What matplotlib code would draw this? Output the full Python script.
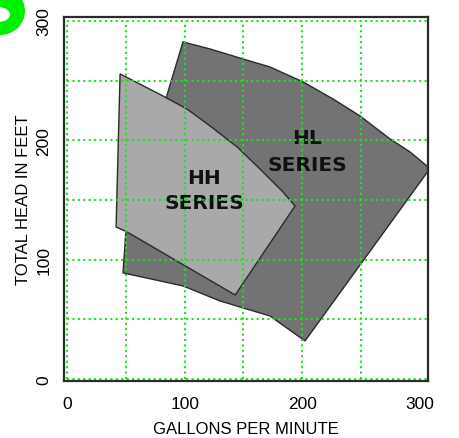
import matplotlib
matplotlib.use('Agg')
import matplotlib.pyplot as plt
from matplotlib.patches import Polygon, Ellipse
from matplotlib.transforms import IdentityTransform

# ---- data ----
hh_x = [45.1, 81.6, 102.0, 121.6, 144.6, 164.1, 183.7, 193.9,
        143.0, 51.1, 41.7]
hh_y = [255.7, 237.2, 226.3, 212.1, 194.5, 176.0, 156.7, 145.0,
        70.4, 123.2, 127.4]

hl_x = [98.6, 121.6, 149.7, 172.6, 200.7, 226.2, 249.1, 274.7, 291.7, 306.1, 308.0,
        202.4, 172.6, 130.1, 98.6, 47.6, 50.0]
hl_y = [282.5, 276.6, 268.2, 261.5, 249.0, 234.7, 220.5, 201.2, 190.3, 178.5, 175.5,
        31.9, 52.8, 65.4, 78.0, 88.9, 123.2]

hh_words = ["HH", "SERIES"]
hh_word_x = [116.5, 116.5]
hh_word_y = [170.2, 150.0]
hl_words = ["HL", "SERIES"]
hl_word_x = [204.1, 204.1]
hl_word_y = [203.7, 181.1]

grid_x = [0, 50, 100, 150, 200, 250]
grid_y = [0, 50, 100, 150, 200, 250, 300]
xticks = [0, 100, 200, 300]
yticks = [0, 100, 200, 300]
xlabel = "GALLONS PER MINUTE"
ylabel = "TOTAL HEAD IN FEET"

plt.rcParams['font.family'] = ['Liberation Sans', 'DejaVu Sans']

fig = plt.figure(figsize=(4.59, 4.39), dpi=100)
ax = fig.add_axes([64 / 459, 57 / 439, 364 / 459, 364 / 439])
ax.set_xlim(-2.6, 307)
ax.set_ylim(-1.7, 303.4)

hl = Polygon(list(zip(hl_x, hl_y)), closed=True, facecolor='#737373',
             edgecolor='#2a2a2a', linewidth=1.0, zorder=2)
ax.add_patch(hl)
hh = Polygon(list(zip(hh_x, hh_y)), closed=True, facecolor='#a9a9a9',
             edgecolor='#2a2a2a', linewidth=1.0, zorder=3)
ax.add_patch(hh)

for words, wx, wy in ((hh_words, hh_word_x, hh_word_y),
                      (hl_words, hl_word_x, hl_word_y)):
    for w, x, y in zip(words, wx, wy):
        ax.text(x, y, w, ha='center', va='center_baseline', fontsize=14.5,
                fontweight='bold', family='DejaVu Sans', color='#101010',
                zorder=4)

green = '#1fe01f'
ax.vlines(grid_x, 0, 300, colors=green, linestyles=(0, (1, 1.6)),
          linewidth=1.5, zorder=5)
ax.hlines(grid_y, 0, 307, colors=green, linestyles=(0, (1, 1.6)),
          linewidth=1.5, zorder=5)

ax.set_xticks(xticks)
ax.set_yticks(yticks)
ax.set_xticklabels([str(v) for v in xticks], fontsize=12.5)
ax.set_yticklabels([str(v) for v in yticks], fontsize=12.5, rotation=90,
                   va='center')
ax.tick_params(axis='x', length=0, pad=11)
ax.tick_params(axis='y', length=0, pad=9)
ax.set_xlabel(xlabel, fontsize=12, labelpad=7)
ax.set_ylabel(ylabel, fontsize=12, labelpad=4)

for s in ax.spines.values():
    s.set_color('#2a2a2a')
    s.set_linewidth(1.6)
    s.set_zorder(6)

# green mark at the top-left corner of the image
fig.add_artist(Ellipse((0, 427), 50, 48, facecolor='#00ee00',
                       edgecolor='none', transform=IdentityTransform()))
fig.add_artist(Ellipse((-2, 423.5), 24, 15, facecolor='white',
                       edgecolor='none', transform=IdentityTransform()))

fig.savefig('out.png', dpi=100)
